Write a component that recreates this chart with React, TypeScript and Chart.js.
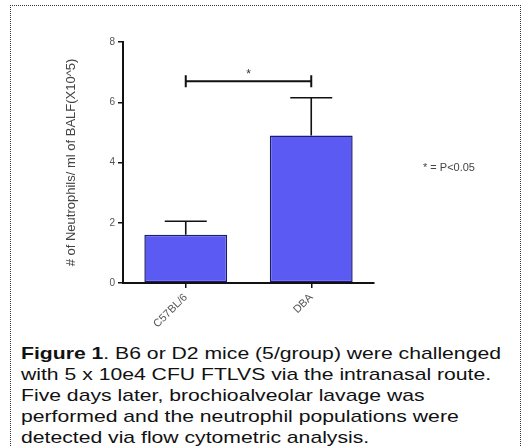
import React, { useEffect, useRef } from "react";
import { Chart, registerables } from "chart.js";

Chart.register(...registerables);

// Neutrophil counts in BALF, per mouse strain (mean and SEM, x10^5 cells/ml)
const strains = ["C57BL/6", "DBA"];
const neutrophilMeans = [1.6, 4.9];
const neutrophilSem = [0.45, 1.25];
const yTickValues = [0, 2, 4, 6, 8];
const sigLevel = 6.7; // bracket height in axis units
const sigMark = "*";
const sigNote = "* = P<0.05";
const yTitle = "# of Neutrophils/ ml of BALF(X10^5)";

const FONT = "'Liberation Sans', Arial, Helvetica, sans-serif";

// Upper error whiskers plus the significance bracket between the two strains
const errorBarsPlugin = {
  id: "errorBars",
  afterDatasetsDraw(chart: any) {
    const { ctx } = chart;
    const y = chart.scales.y;
    const meta = chart.getDatasetMeta(0);
    ctx.save();
    ctx.strokeStyle = "#111";
    ctx.lineWidth = 1.6;
    meta.data.forEach((bar: any, i: number) => {
      const top = y.getPixelForValue(neutrophilMeans[i] + neutrophilSem[i]);
      ctx.beginPath();
      ctx.moveTo(bar.x, bar.y);
      ctx.lineTo(bar.x, top);
      ctx.moveTo(bar.x - 21, top);
      ctx.lineTo(bar.x + 21, top);
      ctx.stroke();
    });

    const yb = y.getPixelForValue(sigLevel);
    const x0 = meta.data[0].x;
    const x1 = meta.data[meta.data.length - 1].x;
    ctx.lineWidth = 2;
    ctx.beginPath();
    ctx.moveTo(x0, yb);
    ctx.lineTo(x1, yb);
    ctx.moveTo(x0, yb - 6);
    ctx.lineTo(x0, yb + 6);
    ctx.moveTo(x1, yb - 6);
    ctx.lineTo(x1, yb + 6);
    ctx.stroke();

    ctx.fillStyle = "#333";
    ctx.font = `12px ${FONT}`;
    ctx.textAlign = "center";
    ctx.textBaseline = "middle";
    ctx.fillText(sigMark, (x0 + x1) / 2, yb - 6);
    ctx.restore();
  },
};

function NeutrophilChart() {
  const canvasRef = useRef<HTMLCanvasElement | null>(null);

  useEffect(() => {
    const canvas = canvasRef.current;
    if (!canvas) return;
    const chart = new Chart(canvas, {
      type: "bar",
      data: {
        labels: strains,
        datasets: [
          {
            data: neutrophilMeans,
            backgroundColor: "#5b5bf4",
            borderColor: "#1c1c70",
            borderWidth: 1.5,
            borderSkipped: false,
            barPercentage: 0.66,
            categoryPercentage: 1,
          },
        ],
      },
      options: {
        animation: false,
        responsive: false,
        maintainAspectRatio: false,
        layout: { padding: { left: 58, top: 42, right: 150, bottom: 0 } },
        plugins: { legend: { display: false }, tooltip: { enabled: false } },
        scales: {
          x: {
            afterFit: (scale: any) => {
              scale.height = 57;
            },
            grid: {
              offset: false,
              drawOnChartArea: false,
              drawTicks: true,
              tickLength: 5,
              color: "#111",
              lineWidth: 1.5,
            },
            border: { display: true, color: "#111", width: 2 },
            ticks: {
              maxRotation: 45,
              minRotation: 45,
              padding: 3,
              color: "#555",
              font: { family: FONT, size: 11 },
            },
          },
          y: {
            min: 0,
            max: 8,
            afterFit: (scale: any) => {
              scale.width = 65;
            },
            afterBuildTicks: (scale: any) => {
              scale.ticks = yTickValues.map((v) => ({ value: v }));
            },
            grid: {
              drawOnChartArea: false,
              drawTicks: true,
              tickLength: 5,
              color: "#111",
              lineWidth: 1.5,
            },
            border: { display: true, color: "#111", width: 2 },
            ticks: {
              padding: 3,
              color: "#555",
              font: { family: FONT, size: 10 },
            },
            title: {
              display: true,
              text: yTitle,
              color: "#444",
              padding: { top: 6, bottom: 0 },
              font: { family: FONT, size: 13 },
            },
          },
        },
      },
      plugins: [errorBarsPlugin],
    });
    return () => chart.destroy();
  }, []);

  return (
    <canvas
      ref={canvasRef}
      width={524}
      height={340}
      style={{ position: "absolute", left: 0, top: 0, width: 524, height: 340 }}
    />
  );
}

export default function App() {
  return (
    <div
      style={{
        position: "fixed",
        left: 0,
        top: 0,
        width: 524,
        height: 446,
        background: "#fff",
        overflow: "hidden",
        fontFamily: FONT,
      }}
    >
      <div
        style={{
          position: "absolute",
          left: 10,
          top: 5,
          width: 509,
          height: 470,
          border: "1px dotted #333",
          borderBottom: "none",
        }}
      />
      <NeutrophilChart />
      <div
        style={{
          position: "absolute",
          left: 423,
          top: 161,
          fontSize: 11,
          color: "#444",
          whiteSpace: "nowrap",
        }}
      >
        {sigNote}
      </div>
      <div
        style={{
          position: "absolute",
          left: 21,
          top: 343,
          fontSize: 17,
          lineHeight: "21px",
          color: "#111",
          whiteSpace: "nowrap",
          transform: "scaleX(1.245)",
          transformOrigin: "left top",
        }}
      >
        <b>Figure 1</b>. B6 or D2 mice (5/group) were challenged
        <br />
        with 5 x 10e4 CFU FTLVS via the intranasal route.
        <br />
        Five days later, brochioalveolar lavage was
        <br />
        performed and the neutrophil populations were
        <br />
        detected via flow cytometric analysis.
      </div>
    </div>
  );
}
